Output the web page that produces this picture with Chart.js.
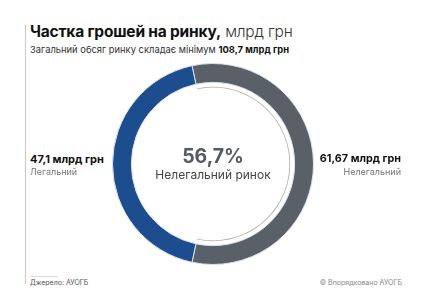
<!DOCTYPE html>
<html><head><meta charset="utf-8">
<script src="https://cdn.jsdelivr.net/npm/chart.js@4/dist/chart.umd.min.js"></script>
<style>
html,body{margin:0;padding:0;background:#fff;width:428px;height:305px;overflow:hidden;font-family:Inter,"Open Sans",sans-serif;}
.abs{position:absolute;white-space:nowrap;}
#vline{left:25px;top:25px;width:1px;height:259px;background:#c8c8c8;}
#title{left:30px;top:22px;font-size:15.5px;color:#111;letter-spacing:-0.2px;}
#title b{font-weight:700;}
#title span{font-weight:300;color:#333;}
#sub{left:30px;top:44px;font-size:9.4px;color:#333;}
#sub b{font-weight:700;color:#111;}
#lval{left:30px;top:152px;font-size:11px;font-weight:700;color:#111;}
#llab{left:30px;top:166px;font-size:9px;color:#777;}
#rval{right:27px;top:152px;font-size:10.8px;font-weight:700;color:#111;text-align:right;}
#rlab{right:27px;top:166px;font-size:9px;color:#777;text-align:right;}
#cval{left:113px;width:200px;top:144px;font-size:19.5px;font-weight:700;color:#555b63;text-align:center;}
#clab{left:113px;width:200px;top:167px;font-size:12px;color:#444;text-align:center;}
#fline{left:30px;top:276px;width:28px;height:1px;background:#ddd;}
#src{left:30px;top:278px;font-size:7px;color:#555;}
#copy{right:26px;top:278px;font-size:7px;color:#888;}
#wrap{position:absolute;left:112px;top:63px;width:202px;height:202px;}
</style></head>
<body>
<div id="vline" class="abs"></div>
<div id="title" class="abs"><b>Частка грошей на ринку,</b> <span>млрд грн</span></div>
<div id="sub" class="abs">Загальний обсяг ринку складає мінімум <b>108,7 млрд грн</b></div>
<div id="wrap"><canvas id="c" width="202" height="202"></canvas></div>
<div id="lval" class="abs"></div>
<div id="llab" class="abs"></div>
<div id="rval" class="abs"></div>
<div id="rlab" class="abs"></div>
<div id="cval" class="abs"></div>
<div id="clab" class="abs">Нелегальний ринок</div>
<div id="fline" class="abs"></div>
<div id="src" class="abs">Джерело: АУОГБ</div>
<div id="copy" class="abs">© Впорядковано АУОГБ</div>
<script>
const categories = ["Нелегальний", "Легальний"];
const values = [61.67, 47.1];
const valueLabels = ["61,67 млрд грн", "47,1 млрд грн"];
const shareLabel = "56,7%";
const colors = ["#5a6068", "#1c4d8e"];

document.getElementById('rval').textContent = valueLabels[0];
document.getElementById('rlab').textContent = categories[0];
document.getElementById('lval').textContent = valueLabels[1];
document.getElementById('llab').textContent = categories[1];
document.getElementById('cval').textContent = shareLabel;

const total = values.reduce((a,b)=>a+b,0);
// Blue segment centred at 270deg => gray centred at 90deg
const rotation = 90 - (values[0]/total)*180;

new Chart(document.getElementById('c'), {
  type: 'doughnut',
  data: {
    labels: categories,
    datasets: [
      {data: values, backgroundColor: colors, borderColor: '#dce3ee', borderWidth: 1, weight: 18},
      {data: values, backgroundColor: ['rgba(0,0,0,0)','rgba(0,0,0,0)'], borderWidth: 0, weight: 4.2},
      {data: values, backgroundColor: ['#b0b0b0','rgba(0,0,0,0)'], borderWidth: 0, weight: 0.8}
    ]
  },
  options: {
    responsive: false,
    animation: false,
    rotation: rotation,
    cutout: '76%',
    layout: {padding: 0},
    plugins: {legend: {display: false}, tooltip: {enabled: false}}
  }
});
</script>
</body></html>
